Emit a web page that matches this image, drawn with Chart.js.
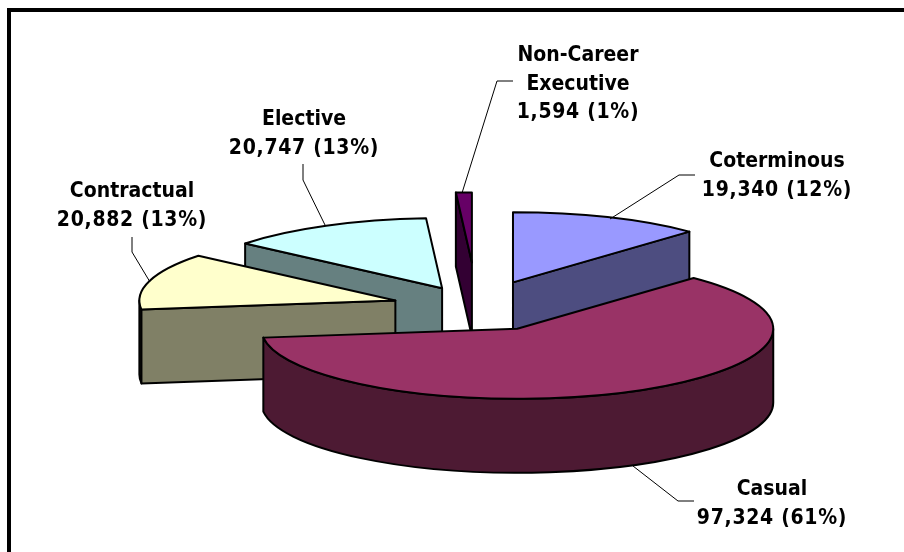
<!DOCTYPE html>
<html><head><meta charset="utf-8">
<style>html,body{margin:0;padding:0;background:#fff}canvas{display:block}</style>
<script src="https://cdn.jsdelivr.net/npm/chart.js@4"></script>
</head><body><canvas id="c" width="904" height="552"></canvas>
<script>
const categories = ['Coterminous','Casual','Contractual','Elective','Non-Career Executive'];
const seriesValues = [19340,97324,20882,20747,1594];
const topColors = ['#9999FF','#993366','#FFFFCC','#CCFFFF','#660066'];
const sideColors = ['#4D4D80','#4D1A33','#808066','#668080','#330033'];
const explodeAmounts = [97,89,85,77,163];
const drawOrder = [4,3,0,2,1];
const labelLines = [
  ['Coterminous','19,340 (12%)'],
  ['Casual','97,324 (61%)'],
  ['Contractual','20,882 (13%)'],
  ['Elective','20,747 (13%)'],
  ['Non-Career','Executive','1,594 (1%)']
];
const labelAnchors = [[777,167],[772,495],[132,197],[304,125],[578,61]];
const leaderPaths = [
  [[610,219],[679,175],[695,175]],
  [[633,466],[678,501],[694,501]],
  [[150,282],[132,252],[132,237]],
  [[325.5,226],[303,180],[303,164]],
  [[462,193],[497,81],[513,81]]
];
const TILT = 70/256, DEPTH = 74, LINE_GAP = 28.7;
const FONT = 'bold 21px "DejaVu Sans Condensed","DejaVu Sans"';

const pie3d = {
  id:'pie3d',
  beforeDatasetsDraw(chart){
    const ctx = chart.ctx, arcs = chart.getDatasetMeta(0).data;
    drawOrder.forEach(i=>{
      const el = arcs[i], r = el.outerRadius;
      const s = el.startAngle, e = el.endAngle, mid = (s+e)/2;
      const ax = el.x + explodeAmounts[i]*Math.cos(mid);
      const ay = el.y + explodeAmounts[i]*Math.sin(mid)*TILT;
      const px = a=>ax+r*Math.cos(a), py = a=>ay+r*TILT*Math.sin(a);
      ctx.save();
      ctx.lineWidth = 2; ctx.strokeStyle = '#000'; ctx.lineJoin='round';
      ctx.fillStyle = sideColors[i];
      const face = (a)=>{
        ctx.beginPath();
        ctx.moveTo(ax,ay); ctx.lineTo(px(a),py(a));
        ctx.lineTo(px(a),py(a)+DEPTH); ctx.lineTo(ax,ay+DEPTH); ctx.closePath();
        ctx.fill(); ctx.stroke();
      };
      // outer wall: portion of the rim that faces the viewer
      const ranges = [[0,Math.PI],[2*Math.PI,3*Math.PI],[-2*Math.PI,-Math.PI]];
      ranges.forEach(([lo,hi])=>{
        const a0 = Math.max(s,lo), a1 = Math.min(e,hi);
        if (a1<=a0) return;
        ctx.beginPath();
        ctx.ellipse(ax,ay,r,r*TILT,0,a0,a1);
        ctx.lineTo(px(a1),py(a1)+DEPTH);
        ctx.ellipse(ax,ay+DEPTH,r,r*TILT,0,a1,a0,true);
        ctx.closePath(); ctx.fill(); ctx.stroke();
      });
      if (Math.cos(s)<0) face(s);
      if (Math.cos(e)>0) face(e);
      // top face, painted by the library's own arc element
      ctx.save();
      ctx.translate(ax,ay); ctx.scale(1,TILT); ctx.translate(-el.x,-el.y);
      el.draw(ctx);
      ctx.restore();
      ctx.beginPath();
      ctx.moveTo(ax,ay);
      ctx.ellipse(ax,ay,r,r*TILT,0,s,e);
      ctx.closePath(); ctx.stroke();
      ctx.restore();
    });
    return false;
  },
  afterDraw(chart){
    const ctx = chart.ctx;
    ctx.save();
    ctx.strokeStyle='#000'; ctx.lineWidth=1;
    leaderPaths.forEach(p=>{
      ctx.beginPath();
      p.forEach(([x,y],j)=>j?ctx.lineTo(x,y):ctx.moveTo(x,y));
      ctx.stroke();
    });
    ctx.fillStyle='#000'; ctx.font=FONT; ctx.textAlign='center'; ctx.textBaseline='alphabetic';
    labelLines.forEach((lines,i)=>{
      lines.forEach((t,j)=>{
        ctx.letterSpacing = /\d/.test(t) ? '0.7px' : '0px';
        ctx.fillText(t,labelAnchors[i][0],labelAnchors[i][1]+j*LINE_GAP);
      });
    });
    ctx.letterSpacing='0px';
    ctx.fillRect(7,8,897,4);
    ctx.fillRect(7,8,4,544);
    ctx.restore();
  }
};

new Chart(document.getElementById('c'),{
  type:'pie',
  data:{labels:categories,datasets:[{data:seriesValues,backgroundColor:topColors,borderWidth:0}]},
  options:{
    responsive:false,animation:false,
    radius:256,
    layout:{padding:{left:50,top:62}},
    plugins:{legend:{display:false},tooltip:{enabled:false},title:{display:false}}
  },
  plugins:[pie3d]
});
</script></body></html>
